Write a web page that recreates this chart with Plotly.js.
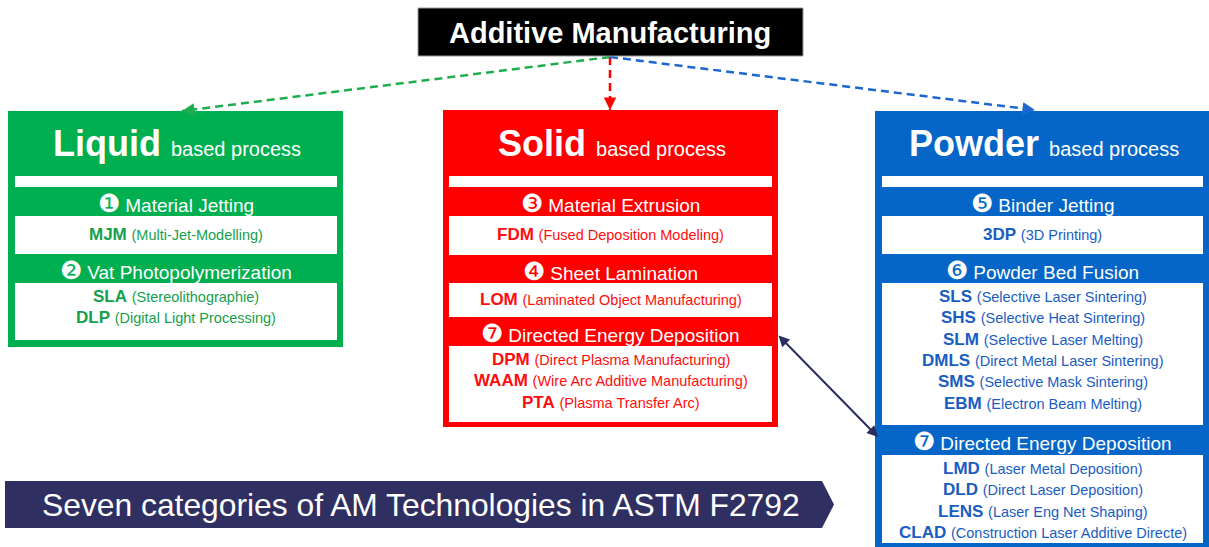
<!DOCTYPE html>
<html><head><meta charset="utf-8">
<script src="https://cdn.plot.ly/plotly-3.0.1.min.js"></script>
<style>html,body{margin:0;padding:0;background:#fff;overflow:hidden}</style>
</head><body><div id="chart" style="width:1209px;height:547px"></div>
<script>
// ---- content ----
const rootLabel = 'Additive Manufacturing';
const processTypes = ['Liquid', 'Solid', 'Powder'];
const processSuffix = 'based process';
const liquidNums = ['❶', '❷'];
const liquidHeaders = ['Material Jetting', 'Vat Photopolymerization'];
const liquidItems = [
  [['MJM', 'Multi-Jet-Modelling']],
  [['SLA', 'Stereolithographie'], ['DLP', 'Digital Light Processing']]
];
const solidNums = ['❸', '❹', '❼'];
const solidHeaders = ['Material Extrusion', 'Sheet Lamination', 'Directed Energy Deposition'];
const solidItems = [
  [['FDM', 'Fused Deposition Modeling']],
  [['LOM', 'Laminated Object Manufacturing']],
  [['DPM', 'Direct Plasma Manufacturing'], ['WAAM', 'Wire Arc Additive Manufacturing'], ['PTA', 'Plasma Transfer Arc']]
];
const powderNums = ['❺', '❻', '❼'];
const powderHeaders = ['Binder Jetting', 'Powder Bed Fusion', 'Directed Energy Deposition'];
const powderItems = [
  [['3DP', '3D Printing']],
  [['SLS', 'Selective Laser Sintering'], ['SHS', 'Selective Heat Sintering'], ['SLM', 'Selective Laser Melting'],
   ['DMLS', 'Direct Metal Laser Sintering'], ['SMS', 'Selective Mask Sintering'], ['EBM', 'Electron Beam Melting']],
  [['LMD', 'Laser Metal Deposition'], ['DLD', 'Direct Laser Deposition'], ['LENS', 'Laser Eng Net Shaping'],
   ['CLAD', 'Construction Laser Additive Directe']]
];
const bannerText = 'Seven categories of AM Technologies in ASTM F2792';

// ---- geometry / style ----
const FONT = 'Liberation Sans, Arial, sans-serif';
const panels = [
  {x0: 8, x1: 343, y0: 111, y1: 347, ix0: 15, ix1: 337, fill: '#00b050', txt: '#16a04b',
   nums: liquidNums, headers: liquidHeaders, items: liquidItems, secs: [[205, 216, 254], [272, 283, 340]]},
  {x0: 443, x1: 778, y0: 110, y1: 427, ix0: 449, ix1: 772, fill: '#ff0000', txt: '#ff0d0d',
   nums: solidNums, headers: solidHeaders, items: solidItems, secs: [[205, 216, 255], [273, 283, 317], [335, 346, 422]]},
  {x0: 875, x1: 1215, y0: 111, y1: 560, ix0: 882, ix1: 1203, fill: '#0566c8', txt: '#1a5dc2',
   nums: powderNums, headers: powderHeaders, items: powderItems, secs: [[205, 216, 254], [272, 283, 425], [443, 455, 543]]}
];

const shapes = [];
const annotations = [];
function rect(x0, y0, x1, y1, fill, line) {
  shapes.push({type: 'rect', xref: 'x', yref: 'y', x0, y0, x1, y1, fillcolor: fill,
    line: line || {width: 0}, layer: 'above'});
}
function text(x, y, t, size, color, extra) {
  annotations.push(Object.assign({xref: 'x', yref: 'y', x, y, text: t, showarrow: false,
    xanchor: 'center', yanchor: 'middle', font: {family: FONT, size, color}}, extra || {}));
}

// dashed connectors
const origin = [610, 57];
const targets = [[182, 111, '#1fae4f'], [610, 110, '#ff0000'], [1035, 110, '#1c67d0']];
targets.forEach(([tx, ty, c]) => {
  shapes.push({type: 'line', xref: 'x', yref: 'y', x0: origin[0], y0: origin[1], x1: tx, y1: ty,
    line: {color: c, width: 2.5, dash: '8px,5px'}, layer: 'below'});
  const dx = origin[0] - tx, dy = origin[1] - ty, L = Math.hypot(dx, dy);
  annotations.push({xref: 'x', yref: 'y', axref: 'x', ayref: 'y', x: tx, y: ty,
    ax: tx + dx / L * 9, ay: ty + dy / L * 9, text: '', showarrow: true, arrowhead: 2,
    arrowsize: 1, arrowwidth: 2.5, arrowcolor: c, standoff: 0});
});

// root box
rect(418, 8, 803, 56, '#000000', {color: '#9a9a9a', width: 1});
text(610, 33, '<b>' + rootLabel + '</b>', 29, '#ffffff');

// panels
panels.forEach((p, i) => {
  rect(p.x0, p.y0, p.x1, p.y1, p.fill);
  const cx = (p.ix0 + p.ix1) / 2;
  text(cx + 1, 143, '<b>' + processTypes[i] + '</b> <span style="font-size:20px">' + processSuffix + '</span>', 36, '#ffffff');
  rect(p.ix0, 176, p.ix1, 187, '#ffffff');
  p.secs.forEach(([hy, by0, by1], s) => {
    text(cx, hy - 2, '<span style="font-size:25px">' + p.nums[s] + '</span> ' + p.headers[s], 19, '#ffffff');
    rect(p.ix0, by0, p.ix1, by1, '#ffffff');
    const its = p.items[s];
    its.forEach(([ab, full], k) => {
      const y = its.length === 1 ? (by0 + by1) / 2 - 1 : by0 + 13.5 + k * 21.3;
      text(cx, y, '<b>' + ab + '</b> <span style="font-size:14.5px">(' + full + ')</span>', 17, p.txt);
    });
  });
});

// double arrow between DED boxes
annotations.push({xref: 'x', yref: 'y', axref: 'x', ayref: 'y', x: 878, y: 437, ax: 777, ay: 334,
  text: '', showarrow: true, arrowhead: 2, arrowside: 'end+start', arrowsize: 1.1, arrowwidth: 2,
  arrowcolor: '#2b2d5e', standoff: 0, startstandoff: 0});

// banner
shapes.push({type: 'path', xref: 'x', yref: 'y', path: 'M 5 481 L 822 481 L 834 504.5 L 822 528 L 5 528 Z',
  fillcolor: '#302f62', line: {width: 0}, layer: 'above'});
text(421, 505, bannerText, 31.8, '#ffffff');

const layout = {
  width: 1209, height: 547, margin: {l: 0, r: 0, t: 0, b: 0},
  paper_bgcolor: '#ffffff', plot_bgcolor: '#ffffff', showlegend: false,
  xaxis: {range: [0, 1209], visible: false, fixedrange: true},
  yaxis: {range: [547, 0], visible: false, fixedrange: true},
  shapes, annotations
};
Plotly.newPlot('chart', [], layout, {staticPlot: true, displayModeBar: false});
</script></body></html>
